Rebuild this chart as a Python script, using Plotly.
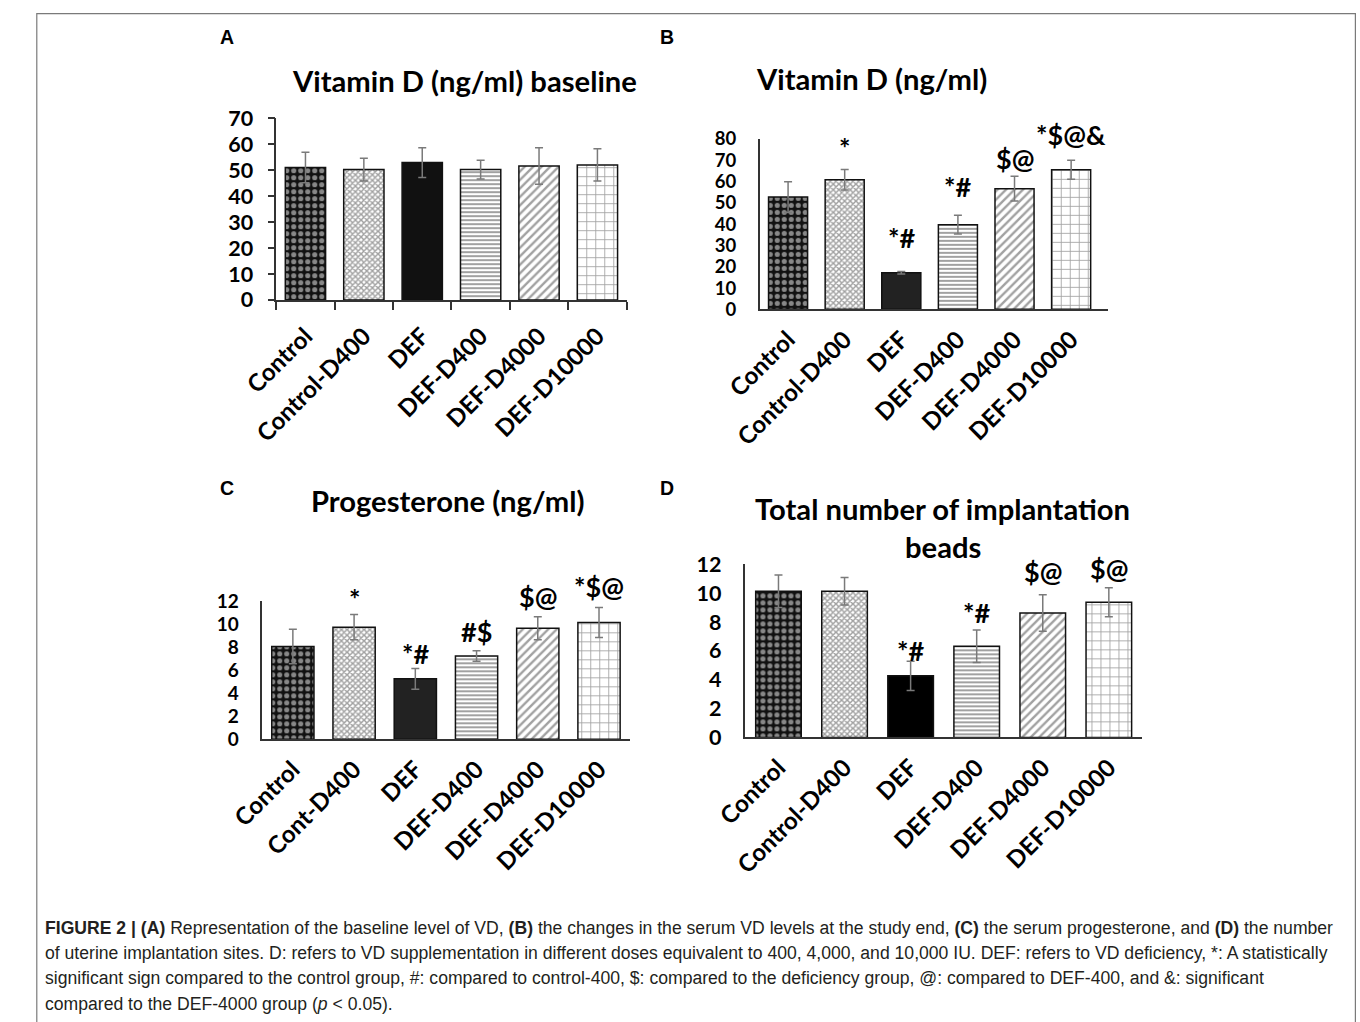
import plotly.graph_objects as go

W, H = 1360, 1022

# ---------------- data ----------------
cats_A = ["Control", "Control-D400", "DEF", "DEF-D400", "DEF-D4000", "DEF-D10000"]
vitd_base = [51.0, 50.2, 52.9, 50.2, 51.6, 52.0]
vitd_base_err = [5.9, 4.4, 5.7, 3.6, 7.0, 6.2]

cats_B = ["Control", "Control-D400", "DEF", "DEF-D400", "DEF-D4000", "DEF-D10000"]
vitd_end = [52.7, 60.8, 17.2, 39.7, 56.6, 65.5]
vitd_end_err = [7.2, 4.8, 0.6, 4.4, 5.8, 4.5]
sig_B = ["", "*", "*#", "*#", "$@", "*$@&amp;"]
sig_B_y = [None, 75.8, 33.6, 57.5, 70.6, 81.9]

cats_C = ["Control", "Cont-D400", "DEF", "DEF-D400", "DEF-D4000", "DEF-D10000"]
progesterone = [8.06, 9.75, 5.25, 7.24, 9.66, 10.16]
progesterone_err = [1.5, 1.1, 0.9, 0.45, 1.0, 1.3]
sig_C = ["", "*", "*#", "#$", "$@", "*$@"]
sig_C_y = [None, 12.26, 7.49, 9.37, 12.43, 13.3]

cats_D = ["Control", "Control-D400", "DEF", "DEF-D400", "DEF-D4000", "DEF-D10000"]
implant = [10.13, 10.13, 4.27, 6.32, 8.63, 9.37]
implant_err = [1.13, 0.95, 1.02, 1.13, 1.27, 1.01]
sig_D = ["", "", "*#", "*#", "$@", "$@"]
sig_D_y = [None, None, 6.05, 8.63, 11.5, 11.72]

# ---------------- styles ----------------
shapes_pat = [".", "x", "", "-", "/", "+"]
pat_size = [7, 4, 8, 4, 6, 9]
pat_sol = [0.42, 0.6, 0.3, 0.5, 0.4, 0.18]
pat_fg = ["#ffffff", "#000000", "#000000", "#000000", "#000000", "#000000"]
FONT = "Lato, 'Open Sans', Arial, sans-serif"

# the photographed page appears slightly shrunk and offset; positions below are
# given in picture pixels and mapped back to page pixels
OX, SX, OY, SY = 37.0, 0.9725, 14.0, 0.9757


def px(X):
    return max(0.0, (X - OX) / SX) / W


def py(Y):
    return 1 - max(0.0, (Y - OY) / SY) / H


fig = go.Figure()

panels = [
    dict(cats=cats_A, vals=vitd_base, err=vitd_base_err, sig=None, sigy=None,
         xd=(277, 627), yd=(301.3, 119.3), rng=[0, 70], dtick=10, defcol="#111111",
         ticks=True, yfs=21.5, xso=11),
    dict(cats=cats_B, vals=vitd_end, err=vitd_end_err, sig=sig_B, sigy=sig_B_y,
         xd=(760, 1108), yd=(310.7, 140), rng=[0, 80], dtick=10, defcol="#222222",
         ticks=False, yfs=18.5, xso=5),
    dict(cats=cats_C, vals=progesterone, err=progesterone_err, sig=sig_C, sigy=sig_C_y,
         xd=(263, 630), yd=(741, 603), rng=[0, 12], dtick=2, defcol="#222222",
         ticks=False, yfs=19, xso=5),
    dict(cats=cats_D, vals=implant, err=implant_err, sig=sig_D, sigy=sig_D_y,
         xd=(745.7, 1141.7), yd=(739.3, 566), rng=[0, 12], dtick=2, defcol="#000000",
         ticks=False, yfs=21.5, xso=5),
]

annotations = []
layout_axes = {}
for i, p in enumerate(panels):
    n = "" if i == 0 else str(i + 1)
    xa, ya = "x" + n, "y" + n
    colors = ["#111111", "white", p["defcol"], "white", "white", "white"]
    fig.add_trace(go.Bar(
        x=p["cats"], y=p["vals"], xaxis=xa, yaxis=ya,
        marker=dict(color=colors, line=dict(color="#111", width=1.5),
                    pattern=dict(shape=shapes_pat, size=pat_size, solidity=pat_sol,
                                 fgcolor=pat_fg, fillmode="overlay")),
        error_y=dict(type="data", array=p["err"], color="#7a7a7a", thickness=1.5, width=4),
        showlegend=False, hoverinfo="skip",
    ))
    ydom = [py(p["yd"][0]), py(p["yd"][1])]
    layout_axes["xaxis" + n] = dict(
        domain=[px(p["xd"][0]), px(p["xd"][1])], anchor=ya,
        type="category", showline=True, linecolor="#333", linewidth=1.5,
        ticks="outside" if p["ticks"] else "", tickson="boundaries", ticklen=8,
        tickcolor="#333", tickwidth=1.5, tickangle=-45, ticklabelstandoff=p["xso"],
        tickfont=dict(family=FONT, size=24, color="#000", weight="bold"),
        showgrid=False, zeroline=False,
    )
    layout_axes["yaxis" + n] = dict(
        domain=ydom, anchor=xa,
        range=p["rng"], dtick=p["dtick"], showline=True, linecolor="#333", linewidth=1.5,
        ticks="outside" if p["ticks"] else "", ticklen=7, tickcolor="#333", tickwidth=1.5,
        ticklabelstandoff=10 if p["ticks"] else 18,
        tickfont=dict(family=FONT, size=p["yfs"], color="#000", weight="bold"),
        showgrid=False, zeroline=False,
    )
    if p["sig"]:
        r0, r1 = p["rng"]
        for c, s, sy in zip(p["cats"], p["sig"], p["sigy"]):
            if s:
                yp = ydom[0] + (sy - r0) / (r1 - r0) * (ydom[1] - ydom[0])
                annotations.append(dict(x=c, y=yp, xref=xa, yref="paper", text=s, showarrow=False,
                                        xanchor="center", yanchor="middle",
                                        font=dict(family=FONT, size=27, color="#000", weight="bold")))

# titles
titles = [
    ("Vitamin D (ng/ml) baseline", 465, 82),
    ("Vitamin D (ng/ml)", 872, 80),
    ("Progesterone (ng/ml)", 448, 502),
    ("Total number of implantation", 943, 510),
    ("beads", 943, 548),
]
for t, x, y in titles:
    annotations.append(dict(x=px(x), y=py(y), xref="paper", yref="paper", text=t, showarrow=False,
                            xanchor="center", yanchor="middle",
                            font=dict(family=FONT, size=29.2, color="#000", weight="bold")))

# panel letters
for t, x, y in [("A", 228, 38), ("B", 667, 38), ("C", 228, 490), ("D", 667, 490)]:
    annotations.append(dict(x=px(x), y=py(y), xref="paper", yref="paper", text="<b>" + t + "</b>",
                            showarrow=False, xanchor="center", yanchor="middle",
                            font=dict(family="Arial, Liberation Sans", size=19.5, color="#000")))

caption = [
    "<b>FIGURE 2 | (A)</b> Representation of the baseline level of VD, <b>(B)</b> the changes in the serum VD levels at the study end, <b>(C)</b> the serum progesterone, and <b>(D)</b> the number",
    "of uterine implantation sites. D: refers to VD supplementation in different doses equivalent to 400, 4,000, and 10,000 IU. DEF: refers to VD deficiency, *: A statistically",
    "significant sign compared to the control group, #: compared to control-400, $: compared to the deficiency group, @: compared to DEF-400, and &amp;: significant",
    "compared to the DEF-4000 group (<i>p</i> &lt; 0.05).",
]
for k, line in enumerate(caption):
    annotations.append(dict(x=px(44), y=py(930 + 25.3 * k), xref="paper", yref="paper", text=line,
                            showarrow=False, xanchor="left", yanchor="middle",
                            font=dict(family="Arial, Liberation Sans", size=17.6, color="#231f20")))

shapes = [dict(type="rect", xref="paper", yref="paper", x0=0.0006, x1=px(1355), y0=-0.05, y1=0.9994,
               line=dict(color="#7a7a7a", width=1.2), fillcolor="rgba(0,0,0,0)")]

fig.update_layout(
    width=W, height=H, margin=dict(l=0, r=0, t=0, b=0),
    paper_bgcolor="white", plot_bgcolor="white", bargap=0.31,
    annotations=annotations, shapes=shapes, **layout_axes,
)

fig.write_html(
    "out.html", config={"displayModeBar": False},
    post_script="document.body.style.margin='0';document.body.style.overflow='hidden';",
)
